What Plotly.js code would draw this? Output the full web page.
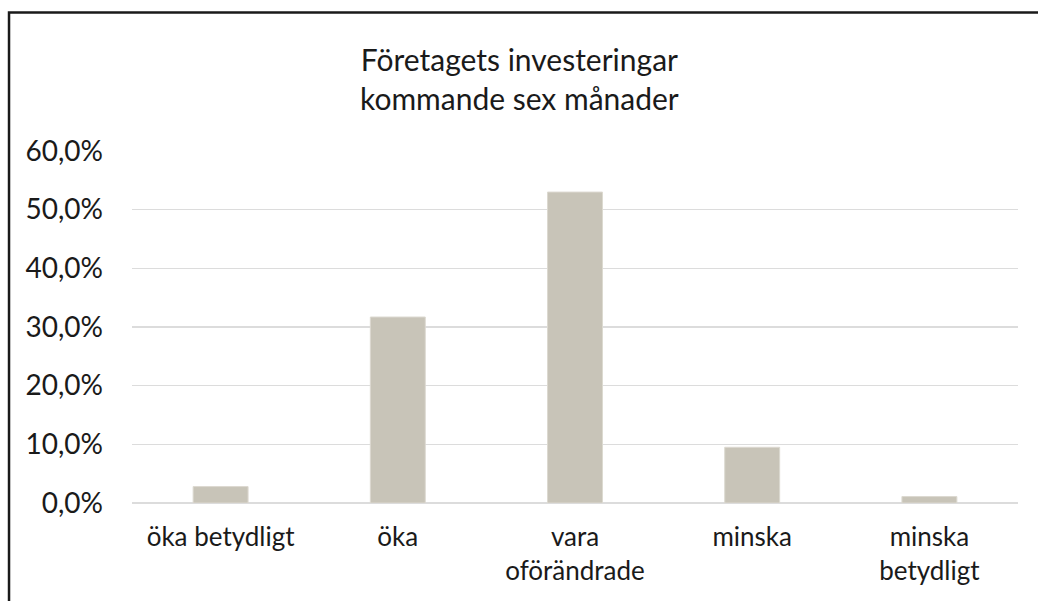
<!DOCTYPE html>
<html>
<head>
<meta charset="utf-8">
<script src="https://cdn.plot.ly/plotly-3.0.1.min.js"></script>
<style>html,body{margin:0;padding:0;background:#fff;}#chart{width:1038px;height:601px;}</style>
</head>
<body>
<div id="chart"></div>
<script>
const categories = ["öka betydligt", "öka", "vara<br>oförändrade", "minska", "minska<br>betydligt"];
const shares = [0.028, 0.317, 0.530, 0.095, 0.011];
const yTicks = [0, 0.1, 0.2, 0.3, 0.4, 0.5, 0.6];
const titleText = "Företagets investeringar<br>kommande sex månader";

const FONT = "Lato, 'Noto Sans', sans-serif";

Plotly.newPlot("chart", [{
  type: "bar",
  x: categories,
  y: shares,
  marker: {color: "#c8c4b8", line: {color: "#dcd9d0", width: 1}},
  hoverinfo: "skip"
}], {
  width: 1038,
  height: 601,
  paper_bgcolor: "#ffffff",
  plot_bgcolor: "#ffffff",
  separators: ", ",
  margin: {l: 132, r: 20, t: 151, b: 98, pad: 0},
  bargap: 0.69,
  showlegend: false,
  font: {family: FONT, color: "#1a1a1a"},
  annotations: [{
    text: titleText,
    xref: "paper", yref: "paper",
    x: 0.4368, y: 1.205,
    xanchor: "center", yanchor: "middle",
    showarrow: false,
    align: "center",
    font: {family: FONT, size: 30, color: "#1a1a1a"}
  }],
  xaxis: {
    showgrid: false,
    showline: false,
    zeroline: false,
    ticks: "",
    tickfont: {family: FONT, size: 26, color: "#1a1a1a"},
    ticklabelstandoff: 16
  },
  yaxis: {
    range: [0, 0.6],
    tickvals: yTicks,
    tickformat: ".1%",
    showgrid: true,
    gridcolor: "#dcdcdc",
    gridwidth: 1.5,
    zeroline: true,
    zerolinecolor: "#dcdcdc",
    zerolinewidth: 1.5,
    showline: false,
    ticks: "",
    ticklabelstandoff: 28,
    tickfont: {family: FONT, size: 28, color: "#1a1a1a"}
  },
  shapes: [{
    type: "path",
    xref: "paper", yref: "paper",
    path: "M -0.1388,-0.35 L -0.1388,1.3936 L 1.05,1.3936",
    line: {color: "#1a1a1a", width: 2.5}
  }]
}, {displayModeBar: false, staticPlot: true});
</script>
</body>
</html>
